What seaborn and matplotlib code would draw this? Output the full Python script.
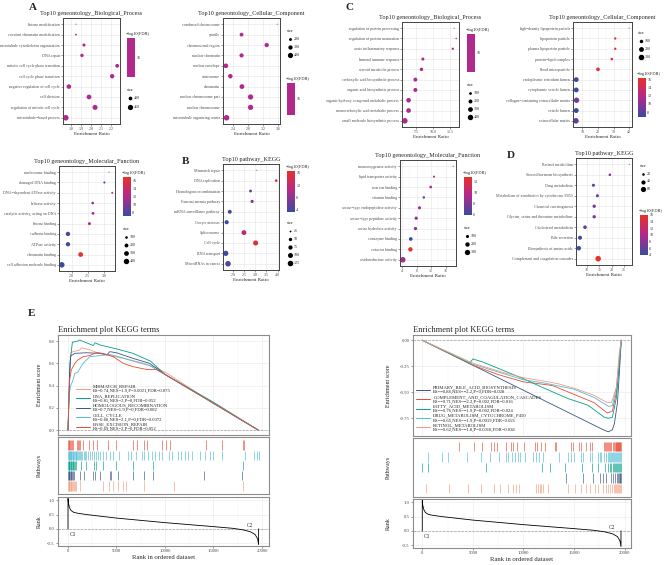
import numpy as np
import pandas as pd
import matplotlib
matplotlib.use("Agg")
import matplotlib.pyplot as plt
import seaborn as sns
from matplotlib.colors import LinearSegmentedColormap, Normalize
from matplotlib.cm import ScalarMappable

# ---------------- data: dot plots ----------------
a_bp_terms = ["histone modification", "covalent chromatin modification", "microtubule cytoskeleton organization",
              "DNA repair", "mitotic cell cycle phase transition", "cell cycle phase transition",
              "negative regulation of cell cycle", "cell division", "regulation of mitotic cell cycle",
              "microtubule−based process"]
a_bp_ratio = [1.85, 1.85, 1.93, 1.91, 2.26, 2.21, 1.78, 1.98, 2.04, 1.75]
a_bp_count = [365, 368, 385, 392, 402, 418, 425, 430, 442, 462]
a_bp_fdr = [16, 16, 16, 16, 16, 16, 16, 16, 16, 16]

a_cc_terms = ["condensed chromosome", "spindle", "chromosomal region", "nuclear chromatin", "nuclear envelope",
              "centrosome", "chromatin", "nuclear chromosome part", "nuclear chromosome",
              "microtubule organizing center"]
a_cc_ratio = [3.58, 2.63, 3.30, 2.63, 2.21, 2.33, 2.64, 2.87, 2.87, 2.23]
a_cc_count = [150, 260, 300, 290, 340, 320, 350, 400, 405, 440]
a_cc_fdr = [16, 16, 16, 16, 16, 16, 16, 16, 16, 16]

a_mf_terms = ["nucleosome binding", "damaged DNA binding", "DNA−dependent ATPase activity", "helicase activity",
              "catalytic activity, acting on DNA", "histone binding", "cadherin binding", "ATPase activity",
              "chromatin binding", "cell adhesion molecule binding"]
a_mf_ratio = [3.15, 3.01, 3.25, 2.65, 2.66, 2.55, 1.89, 1.89, 2.28, 1.70]
a_mf_count = [55, 75, 70, 100, 110, 120, 250, 250, 300, 420]
a_mf_fdr = [8.5, 8.0, 14.5, 10.5, 11.5, 12.0, 7.8, 7.8, 16.8, 7.2]

b_kegg_terms = ["Mismatch repair", "DNA replication", "Homologous recombination", "Fanconi anemia pathway",
                "mRNA surveillance pathway", "Oocyte meiosis", "Spliceosome", "Cell cycle", "RNA transport",
                "MicroRNAs in cancer"]
b_kegg_ratio = [3.06, 3.94, 2.78, 2.85, 1.84, 1.70, 2.48, 3.01, 1.66, 1.76]
b_kegg_count = [22, 35, 38, 45, 65, 70, 95, 105, 110, 125]
b_kegg_fdr = [5.0, 16.6, 6.5, 7.0, 4.0, 3.5, 11.0, 15.5, 3.3, 5.0]

c_bp_terms = ["regulation of protein processing", "regulation of protein maturation", "acute inflammatory response",
              "humoral immune response", "steroid metabolic process", "carboxylic acid biosynthetic process",
              "organic acid biosynthetic process", "organic hydroxy compound metabolic process",
              "monocarboxylic acid metabolic process", "small molecule biosynthetic process"]
c_bp_ratio = [13.1, 13.4, 12.9, 8.5, 8.3, 7.4, 7.4, 6.4, 6.4, 5.85]
c_bp_count = [45, 48, 75, 120, 150, 200, 205, 280, 290, 420]
c_bp_fdr = [16, 16, 16, 16, 16, 16, 16, 16, 16, 16]

c_cc_terms = ["high−density lipoprotein particle", "lipoprotein particle", "plasma lipoprotein particle",
              "protein−lipid complex", "blood microparticle", "endoplasmic reticulum lumen",
              "cytoplasmic vesicle lumen", "collagen−containing extracellular matrix", "vesicle lumen",
              "extracellular matrix"]
c_cc_ratio = [40.0, 31.1, 31.1, 28.9, 20.0, 6.0, 6.0, 6.2, 6.0, 5.8]
c_cc_count = [30, 50, 50, 60, 110, 200, 200, 250, 210, 270]
c_cc_fdr = [16.3, 15.8, 15.8, 15.0, 15.5, 7.0, 6.8, 9.0, 6.8, 8.5]

c_mf_terms = ["monooxygenase activity", "lipid transporter activity", "iron ion binding", "vitamin binding",
              "serine−type endopeptidase activity", "serine−type peptidase activity", "serine hydrolase activity",
              "coenzyme binding", "cofactor binding", "oxidoreductase activity"]
c_mf_ratio = [18.1, 12.8, 11.9, 10.0, 8.8, 7.9, 7.7, 6.4, 6.3, 4.2]
c_mf_count = [40, 55, 80, 70, 100, 110, 115, 140, 200, 330]
c_mf_fdr = [8.0, 10.5, 9.0, 7.0, 8.5, 8.5, 8.5, 6.0, 12.8, 9.0]

d_kegg_terms = ["Retinol metabolism", "Steroid hormone biosynthesis", "Drug metabolism",
                "Metabolism of xenobiotics by cytochrome P450", "Chemical carcinogenesis",
                "Glycine, serine and threonine metabolism", "Cholesterol metabolism", "Bile secretion",
                "Biosynthesis of amino acids", "Complement and coagulation cascades"]
d_kegg_ratio = [27.0, 19.2, 12.6, 14.2, 12.9, 12.9, 9.2, 7.2, 6.7, 14.5]
d_kegg_count = [14, 20, 25, 25, 28, 28, 32, 38, 45, 68]
d_kegg_fdr = [7.5, 7.5, 5.5, 6.5, 7.0, 7.0, 6.0, 4.5, 4.0, 16.0]

# ---------------- data: GSEA (left) ----------------
left_names = ["MISMATCH_REPAIR", "DNA_REPLICATION", "HOMOLOGOUS_RECOMBINATION", "CELL_CYCLE", "BASE_EXCISION_REPAIR"]
left_stats = ["ES=0.74,NES=1.9,P=0.0021,FDR=0.075", "ES=0.81,NES=2,P=0,FDR=0.052", "ES=0.7,NES=1.9,P=0,FDR=0.082",
              "ES=0.68,NES=2.1,P=0,FDR=0.0072", "ES=0.69,NES=2,P=0,FDR=0.052"]
left_colors = ["#F39B7F", "#00A087", "#3C5488", "#4DBBD5", "#E64B35"]

mm_rank = [0, 150, 240, 350, 1200, 1400, 2300, 2900, 4300, 6000, 7800, 9100, 10200, 15000, 19600]
mm_es = [0, 0.40, 0.66, 0.70, 0.72, 0.74, 0.72, 0.70, 0.67, 0.64, 0.60, 0.56, 0.51, 0.24, 0]
dna_rank = [0, 100, 200, 450, 1000, 1200, 1900, 2600, 2800, 3300, 5000, 6700, 8500, 10000, 15000, 19600]
dna_es = [0, 0.30, 0.60, 0.79, 0.80, 0.81, 0.785, 0.76, 0.785, 0.765, 0.73, 0.69, 0.62, 0.50, 0.25, 0]
hr_rank = [0, 150, 280, 700, 1900, 3300, 4000, 4300, 5000, 6700, 8400, 10000, 15000, 19600]
hr_es = [0, 0.48, 0.665, 0.69, 0.695, 0.69, 0.675, 0.705, 0.695, 0.645, 0.60, 0.50, 0.24, 0]
cc_rank = [0, 100, 240, 520, 700, 1000, 1550, 2250, 3300, 4300, 5000, 6700, 8400, 10000, 15000, 19600]
cc_es = [0, 0.30, 0.39, 0.45, 0.51, 0.52, 0.60, 0.66, 0.67, 0.68, 0.665, 0.62, 0.58, 0.50, 0.24, 0]
ber_rank = [0, 170, 340, 700, 1000, 1550, 2250, 2900, 3600, 4650, 5700, 6700, 8100, 9100, 10000, 15000, 19600]
ber_es = [0, 0.45, 0.54, 0.60, 0.63, 0.66, 0.67, 0.695, 0.69, 0.66, 0.60, 0.57, 0.545, 0.545, 0.50, 0.24, 0]

mm_hits = [20, 60, 100, 150, 200, 260, 330, 400, 480, 580, 700, 850, 1250, 3650, 4200, 4650, 5200, 5700, 6000,
           7800, 10900, 18000]
dna_hits = [20, 60, 100, 150, 200, 260, 320, 400, 480, 560, 650, 750, 850, 1350, 1900, 2650, 2850, 3650, 5000,
            6700, 8800, 18000]
hr_hits = [20, 60, 100, 150, 210, 280, 350, 430, 520, 600, 1200, 1700, 2600, 2750, 3300, 4300, 4400, 5200, 6700,
           7800, 8800, 14000, 17950]
cc_hits = [20, 60, 110, 160, 220, 280, 340, 400, 470, 540, 610, 700, 780, 860, 950, 1050, 1150, 1250, 1350, 1480,
           1600, 1750, 1900, 2050, 2250, 2450, 2650, 2850, 3050, 3300, 3600, 3950, 4300, 4650, 5300, 6200, 6500,
           7000, 7600, 7850, 8200, 8700, 9000, 9400, 9700, 10400, 10700, 11300, 11600, 12100, 12400, 12800, 13600,
           14100, 14600, 15000, 15900, 18200, 19200, 19450, 19650]
ber_hits = [30, 80, 150, 220, 300, 380, 480, 900, 1000, 1100, 1250, 1550, 2150, 2600, 2950, 4150, 5000, 6650, 7150,
            7850, 8100, 9650, 10100, 10500, 14250, 15850, 18000, 18100]

# ---------------- data: GSEA (right) ----------------
right_names = ["PRIMARY_BILE_ACID_BIOSYNTHESIS", "COMPLEMENT_AND_COAGULATION_CASCADES", "FATTY_ACID_METABOLISM",
               "DRUG_METABOLISM_CYTOCHROME_P450", "RETINOL_METABOLISM"]
right_stats = ["ES=−0.88,NES=−2.2,P=0,FDR=0.028", "ES=−0.71,NES=−2.2,P=0.002,FDR=0.016",
               "ES=−0.76,NES=−1.9,P=0.002,FDR=0.024", "ES=−0.65,NES=−1.9,P=0.0019,FDR=0.021",
               "ES=−0.62,NES=−1.8,P=0.0018,FDR=0.038"]
right_colors = ["#3C5488", "#E64B35", "#00A087", "#4DBBD5", "#F39B7F"]

pba_rank = [0, 18000, 18400, 18800, 19000, 19300, 19500, 19680]
pba_es = [0, -0.865, -0.88, -0.86, -0.80, -0.60, -0.30, 0]
comp_rank = [0, 5000, 7500, 10000, 12500, 13000, 15000, 17000, 18300, 18800, 19200, 19500, 19680]
comp_es = [0, -0.24, -0.33, -0.40, -0.43, -0.44, -0.52, -0.60, -0.70, -0.68, -0.50, -0.20, 0]
fatty_rank = [0, 4700, 5000, 6000, 8000, 10000, 11800, 14400, 16400, 18000, 18400, 18800, 19200, 19500, 19680]
fatty_es = [0, -0.22, -0.18, -0.21, -0.29, -0.37, -0.45, -0.56, -0.625, -0.74, -0.75, -0.74, -0.55, -0.20, 0]
drug_rank = [0, 5000, 8000, 10000, 12000, 13000, 15000, 17000, 18400, 18800, 19200, 19500, 19680]
drug_es = [0, -0.23, -0.32, -0.38, -0.41, -0.43, -0.47, -0.55, -0.635, -0.63, -0.45, -0.15, 0]
ret_rank = [0, 5000, 8000, 10000, 12500, 13500, 15000, 17000, 18200, 18700, 19200, 19500, 19680]
ret_es = [0, -0.22, -0.31, -0.36, -0.40, -0.42, -0.46, -0.53, -0.595, -0.60, -0.45, -0.10, 0]

comp_hits = [3620, 5130, 5860, 6840, 7070, 7340, 8320, 8820, 8980, 9410, 10070, 11120, 11380, 11780, 12110, 13090,
             13260, 14670, 14900, 15490, 15660, 16220, 16550, 16810, 17950, 18050, 18150, 18250, 18350, 18450,
             18550, 18650, 18850, 18950, 19050, 19150, 19200, 19250, 19300, 19350, 19400, 19450, 19500, 19550,
             19600, 19650]
drug_hits = [530, 1970, 2570, 4470, 5760, 6680, 7600, 8320, 8490, 8910, 9140, 9470, 9640, 10200, 10950, 11280,
             11510, 11940, 13490, 14410, 14670, 14970, 15720, 15890, 16550, 16780, 17370, 17530, 17700, 17960,
             18190, 18400, 18500, 18600, 18700, 18800, 18900, 19000, 19100, 19200, 19300, 19400, 19500, 19600, 19650]
fatty_hits = [0, 590, 6350, 11840, 12600, 14080, 15790, 16780, 17370, 18090, 18400, 18550, 18700, 18850, 19000,
              19100, 19200, 19300, 19400, 19500, 19600, 19650]
pba_hits = [14180, 15890, 16880, 17530, 17860, 18190, 18680, 18900, 19100, 19250, 19350, 19450, 19550, 19600, 19650]
ret_hits = [360, 2630, 4540, 5760, 7110, 7730, 8490, 8980, 9310, 9570, 11280, 11450, 11610, 11780, 11940, 12430,
            14410, 15070, 15720, 16220, 16550, 17040, 17370, 17860, 18190, 18360, 18600, 18800, 19000, 19100,
            19200, 19300, 19400, 19500, 19600, 19650]

# ranked list metric (same dataset for both sides)
rank_pos = [0, 0, 50, 150, 300, 600, 1000, 2000, 3500, 5000, 7500, 10000, 12500, 15000, 17000, 18000, 18800,
            19300, 19550, 19650, 19650]
rank_val = [0, 1.07, 0.90, 0.75, 0.65, 0.58, 0.55, 0.50, 0.44, 0.38, 0.30, 0.22, 0.15, 0.08, 0.02, -0.03,
            -0.10, -0.20, -0.35, -0.55, 0]

# ---------------- style ----------------
W, H = 667, 565
sns.set_theme(style="white")
plt.rcParams['font.family'] = ['Liberation Serif', 'DejaVu Serif']
plt.rcParams['axes.unicode_minus'] = False

fdr_cmap = LinearSegmentedColormap.from_list("fdr", ["#3B4B9F", "#B02A8C", "#E8302A"])
MID = "#B02A8C"
single_cmap = LinearSegmentedColormap.from_list("single", [MID, MID])
DOT_D = (0.75, 4.0)

fig = plt.figure(figsize=(W / 100, H / 100), dpi=100)


def box(x0, y0, x1, y1):
    return fig.add_axes([x0 / W, 1 - y1 / H, (x1 - x0) / W, (y1 - y0) / H])


ov = box(0, 0, W, H)
ov.set_xlim(0, W)
ov.set_ylim(H, 0)
ov.axis("off")
ov.set_zorder(20)


def dot_area(v, lo, hi):
    t = 0.0 if hi == lo else min(max((v - lo) / (hi - lo), 0), 1)
    return (DOT_D[0] + (DOT_D[1] - DOT_D[0]) * np.sqrt(t)) ** 2


def dot_panel(px, title, terms, ratio, count, fdr, xticks, size_breaks, cbar_ticks,
              leg_x, size_top, size_gap, cbar_top, cbar_bot):
    ax = box(*px)
    df = pd.DataFrame({"term": terms, "ratio": ratio, "count": count, "fdr": fdr})
    lo, hi = min(count), max(count)
    sizes = {v: dot_area(v, lo, hi) for v in df["count"].unique()}
    single = min(fdr) == max(fdr)
    if single:
        sns.scatterplot(data=df, x="ratio", y="term", size="count", sizes=sizes, color=MID,
                        linewidth=0, legend=False, ax=ax)
        norm = Normalize(min(fdr) - 1, max(fdr) + 1)
        cm = single_cmap
    else:
        norm = Normalize(min(fdr), max(fdr))
        cm = fdr_cmap
        sns.scatterplot(data=df, x="ratio", y="term", hue="fdr", palette=fdr_cmap, hue_norm=norm,
                        size="count", sizes=sizes, linewidth=0, legend=False, ax=ax)
    r0, r1 = min(ratio), max(ratio)
    pad = (r1 - r0) * 0.055
    ax.set_xlim(r0 - pad, r1 + pad)
    ax.set_ylim(len(terms) - 0.4, -0.6)
    ax.set_xticks(xticks)
    ax.set_xticks([(a + b) / 2 for a, b in zip(xticks[:-1], xticks[1:])], minor=True)
    ax.grid(True, which="major", color="#E5E5E5", lw=0.4)
    ax.grid(True, which="minor", axis="x", color="#F2F2F2", lw=0.3)
    ax.set_axisbelow(True)
    ax.tick_params(axis="both", which="major", labelsize=2.9, length=1.2, width=0.4, pad=1,
                   colors="#4D4D4D", left=True, bottom=True)
    ax.tick_params(which="minor", length=0)
    for s in ax.spines.values():
        s.set_color("#444444")
        s.set_linewidth(0.7)
    ax.set_xlabel("Enrichment Ratio", fontsize=3.6, labelpad=1)
    ax.set_ylabel("")
    ax.set_title(title, fontsize=4.4, pad=2.5)

    # size legend
    ov.text(leg_x, size_top, "size", fontsize=3.2, va="center", ha="left")
    for i, b in enumerate(size_breaks):
        yy = size_top + 8 + i * size_gap
        ov.scatter([leg_x + 2.5], [yy], s=dot_area(b, lo, hi), color="black", linewidths=0)
        ov.text(leg_x + 7, yy, str(b), fontsize=2.9, va="center", ha="left")

    # colour bar legend
    ov.text(leg_x - 1, cbar_top - 4, "−log10(FDR)", fontsize=3.2, va="center", ha="left")
    cax = box(leg_x, cbar_top, leg_x + 7.5, cbar_bot)
    cb = fig.colorbar(ScalarMappable(norm=norm, cmap=cm), cax=cax)
    cb.set_ticks(cbar_ticks)
    cb.ax.tick_params(labelsize=2.9, length=1.5, width=0.4, color="white", direction="in", pad=1.2)
    cb.outline.set_visible(False)
    return ax


dot_panel((63, 18, 120, 124), "Top10 geneontology_Biological_Process", a_bp_terms, a_bp_ratio, a_bp_count,
          a_bp_fdr, [1.8, 1.9, 2.0, 2.1, 2.2], [400, 450], [16], 127, 90, 8.5, 38, 77)
dot_panel((223, 18, 280, 124), "Top10 geneontology_Cellular_Component", a_cc_terms, a_cc_ratio, a_cc_count,
          a_cc_fdr, [2.4, 2.8, 3.2, 3.6], [200, 300, 400], [16], 287, 31, 8, 83, 115)
dot_panel((59, 166, 115, 271), "Top10 geneontology_Molecular_Function", a_mf_terms, a_mf_ratio, a_mf_count,
          a_mf_fdr, [2.0, 2.5, 3.0], [100, 200, 300, 400], [8, 10, 12, 14, 16], 123, 229, 8, 177, 216)
dot_panel((223, 164, 279, 270), "Top10 pathway_KEGG", b_kegg_terms, b_kegg_ratio, b_kegg_count,
          b_kegg_fdr, [2.0, 2.5, 3.0, 3.5, 4.0], [25, 50, 75, 100, 125], [4, 8, 12, 16], 287, 223, 8, 171, 212)
dot_panel((402, 22, 459, 127), "Top10 geneontology_Biological_Process", c_bp_terms, c_bp_ratio, c_bp_count,
          c_bp_fdr, [7.5, 10.0, 12.5], [100, 200, 300, 400], [16], 467, 85, 8, 34, 72)
dot_panel((573, 22, 632, 127), "Top10 geneontology_Cellular_Component", c_cc_terms, c_cc_ratio, c_cc_count,
          c_cc_fdr, [10, 20, 30, 40], [100, 200, 300], [8, 10, 12, 14, 16], 638, 33, 8, 78, 117)
dot_panel((400, 160, 456, 266), "Top10 geneontology_Molecular_Function", c_mf_terms, c_mf_ratio, c_mf_count,
          c_mf_fdr, [4, 8, 12, 16], [100, 200, 300], [6, 8, 10, 12], 464, 228, 8, 177, 215)
dot_panel((576, 158, 632, 265), "Top10 pathway_KEGG", d_kegg_terms, d_kegg_ratio, d_kegg_count,
          d_kegg_fdr, [10, 15, 20, 25], [20, 40, 60], [4, 6, 8, 10, 12, 14, 16], 640, 166, 7.5, 215, 255)

for letter, (lx, ly) in zip("ABCDE", [(33, 8), (185, 162), (350, 7), (511, 155), (32, 314)]):
    ov.text(lx, ly, letter, fontsize=8, fontweight="bold", ha="center", va="center")


# ---------------- GSEA panels ----------------
def gsea_panel(x0, x1, ys, xlim, names, stats, colors, curves, hits, es_ticks, es_labels, es_lim,
               leg_anchor, ylab_x):
    ax1 = box(x0, ys[0], x1, ys[1])
    ax2 = box(x0, ys[2], x1, ys[3])
    ax3 = box(x0, ys[4], x1, ys[5])
    labels = [f"{n}\n{s}" for n, s in zip(names, stats)]
    frames = []
    for lab, (rk, es) in zip(labels, curves):
        frames.append(pd.DataFrame({"rank": rk, "es": es, "pathway": lab}))
    df = pd.concat(frames, ignore_index=True)
    pal = dict(zip(labels, colors))
    ax1.axhline(0, color="#A0A0A0", lw=0.5, ls="--", zorder=1)
    sns.lineplot(data=df, x="rank", y="es", hue="pathway", hue_order=labels, palette=pal, sort=False,
                 estimator=None, lw=0.6, ax=ax1)
    sns.move_legend(ax1, "lower left", bbox_to_anchor=leg_anchor, frameon=False, title=None, fontsize=3.4,
                    handlelength=3.0, handletextpad=0.6, labelspacing=0.15, borderpad=0, borderaxespad=0)
    for h in ax1.get_legend().legend_handles:
        h.set_linewidth(0.7)
    ax1.set_ylim(*es_lim)
    ax1.set_yticks(es_ticks)
    ax1.set_yticklabels(es_labels)
    ax1.set_ylabel("Enrichment score", fontsize=4.3)
    ax1.set_title("Enrichment plot KEGG terms", loc="left", fontsize=6, pad=2)

    # hit rows, top row drawn first
    n = len(hits)
    for k, (h, c) in enumerate(hits):
        ax2.vlines(h, n - 1 - k + 0.04, n - k - 0.04, color=c, lw=0.55, alpha=0.8)
    ax2.set_ylim(-0.3, n + 0.3)
    ax2.set_yticks([])
    ax2.set_ylabel("Pathways", fontsize=4.3)

    ax3.axhline(0, color="#A0A0A0", lw=0.5, ls="--", zorder=1)
    sns.lineplot(x=rank_pos, y=rank_val, sort=False, estimator=None, color="black", lw=0.6, ax=ax3)
    ax3.text(150, -0.1, "C1", fontsize=4, ha="left", va="top")
    ax3.text(19100, 0.02, "C2", fontsize=4, ha="right", va="bottom")
    ax3.set_ylim(-0.6, 1.12)
    ax3.set_yticks([-0.5, 0.0, 0.5, 1.0])
    ax3.set_yticklabels(["-0.5", "0.0", "0.5", "1.0"])
    ax3.set_ylabel("Rank", fontsize=4.3)
    ax3.set_xlabel("Rank in ordered dataset", fontsize=4.8, labelpad=1)

    for ax in (ax1, ax2, ax3):
        ax.set_xlim(*xlim)
        ax.set_xticks([0, 5000, 10000, 15000, 20000])
        ax.set_xticks([2500, 7500, 12500, 17500], minor=True)
        ax.tick_params(which="major", labelsize=3.4, length=1.3, width=0.4, pad=1, colors="#4D4D4D",
                       left=True, bottom=True)
        ax.tick_params(which="minor", length=0)
        for s in ax.spines.values():
            s.set_color("#8C8C8C")
            s.set_linewidth(0.8)
        ax.yaxis.set_label_coords(ylab_x, 0.5)
    for ax in (ax1, ax3):
        ax.grid(True, which="major", color="#E8E8E8", lw=0.4)
        ax.grid(True, which="minor", color="#F3F3F3", lw=0.3)
        ax.set_axisbelow(True)
    for ax in (ax1, ax2):
        ax.set_xlabel("")
        ax.tick_params(axis="x", labelbottom=False, length=0)


gsea_panel(58, 269, (335, 435, 437, 494, 497, 546), (-1031, 20722), left_names, left_stats, left_colors,
           [(mm_rank, mm_es), (dna_rank, dna_es), (hr_rank, hr_es), (cc_rank, cc_es), (ber_rank, ber_es)],
           [(ber_hits, "#E64B35"), (cc_hits, "#4DBBD5"), (dna_hits, "#00A087"), (hr_hits, "#3C5488"),
            (mm_hits, "#F39B7F")],
           [0.0, 0.2, 0.4, 0.6, 0.8], ["0.0", "0.2", "0.4", "0.6", "0.8"], (-0.045, 0.855),
           (0.085, 0.04), -0.075)

gsea_panel(413, 631, (335, 436, 438, 497, 499, 548), (-917, 20640), right_names, right_stats, right_colors,
           [(pba_rank, pba_es), (comp_rank, comp_es), (fatty_rank, fatty_es), (drug_rank, drug_es),
            (ret_rank, ret_es)],
           [(comp_hits, "#E64B35"), (drug_hits, "#4DBBD5"), (fatty_hits, "#00A087"), (pba_hits, "#3C5488"),
            (ret_hits, "#F39B7F")],
           [0.0, -0.25, -0.5, -0.75], ["0.00", "-0.25", "-0.50", "-0.75"], (-0.92, 0.05),
           (0.015, 0.04), -0.1)

fig.savefig("out.png", dpi=100)
